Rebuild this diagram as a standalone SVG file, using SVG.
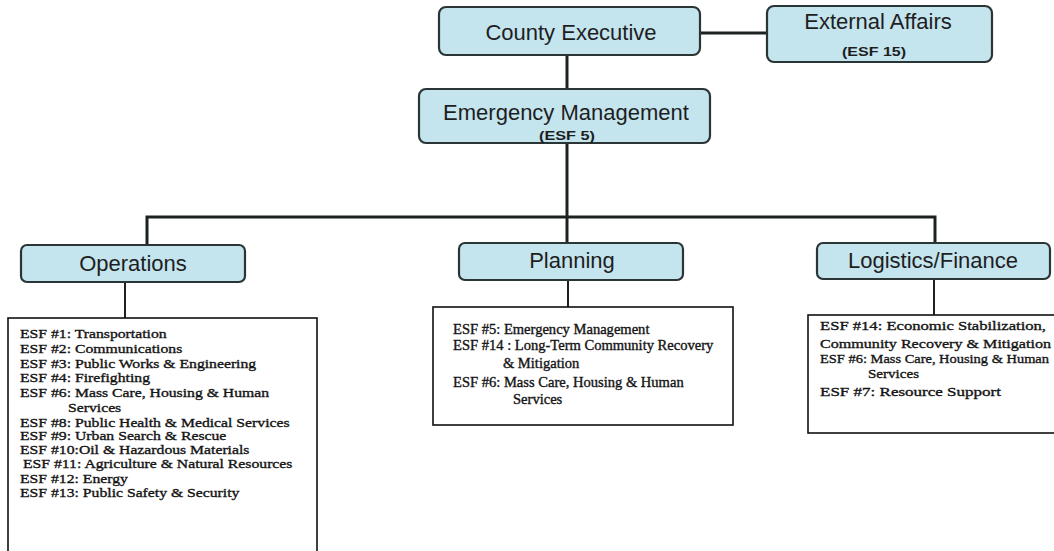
<svg xmlns="http://www.w3.org/2000/svg" width="1054" height="551" viewBox="0 0 1054 551">
<style>
.node{fill:#c4e4ee;stroke:#2b3535;stroke-width:2.2}
.lbl{font-family:"Liberation Sans",Arial,sans-serif;font-size:22px;fill:#1e1e1e;text-anchor:middle}
.sub{font-family:"Liberation Sans",Arial,sans-serif;font-size:12px;font-weight:bold;fill:#1e1e1e;text-anchor:middle}
.list{fill:#ffffff;stroke:#111;stroke-width:1.6}
.ser{font-family:"Liberation Serif","Times New Roman",serif;fill:#141414;stroke:#141414;stroke-width:0.35}
.conn{stroke:#1c2222;stroke-width:3;fill:none}
</style>
<rect width="1054" height="551" fill="#ffffff"/>
<g id="connectors" class="conn">
<line x1="700" y1="33" x2="767" y2="33"/>
<line x1="567" y1="55" x2="567" y2="89"/>
<line x1="567" y1="143" x2="567" y2="217"/>
<polyline points="147,245 147,217 935,217 935,243"/>
<line x1="567" y1="217" x2="567" y2="243"/>
<line x1="125" y1="282" x2="125" y2="318" stroke-width="2"/>
<line x1="568" y1="280" x2="568" y2="307" stroke-width="2"/>
<line x1="934" y1="279" x2="934" y2="315" stroke-width="2"/>
</g>
<g id="county-executive">
<rect class="node" x="439" y="7" width="261" height="48" rx="7"/>
<text class="lbl" x="571" y="40">County Executive</text>
</g>
<g id="external-affairs">
<rect class="node" x="767" y="6" width="225" height="56" rx="7"/>
<text class="lbl" x="878" y="29">External Affairs</text>
<text class="sub" x="874" y="56" textLength="64" lengthAdjust="spacingAndGlyphs">(ESF 15)</text>
</g>
<g id="emergency-management">
<rect class="node" x="419" y="89" width="291" height="54" rx="7"/>
<text class="lbl" x="566" y="120">Emergency Management</text>
<text class="sub" x="567" y="140" textLength="56" lengthAdjust="spacingAndGlyphs">(ESF 5)</text>
</g>
<g id="operations">
<rect class="node" x="21" y="245" width="224" height="37" rx="6"/>
<text class="lbl" x="133" y="271">Operations</text>
</g>
<g id="planning">
<rect class="node" x="459" y="243" width="224" height="37" rx="6"/>
<text class="lbl" x="572" y="268">Planning</text>
</g>
<g id="logistics-finance">
<rect class="node" x="817" y="243" width="233" height="36" rx="6"/>
<text class="lbl" x="933" y="268">Logistics/Finance</text>
</g>
<g id="operations-list">
<rect class="list" x="8" y="318" width="309" height="250"/>
<g transform="translate(20,0) scale(1.21,1)" class="ser" font-size="13">
<text x="0" y="338">ESF #1: Transportation</text>
<text x="0" y="353">ESF #2:  Communications</text>
<text x="0" y="368">ESF #3: Public Works &amp; Engineering</text>
<text x="0" y="382">ESF #4:  Firefighting</text>
<text x="0" y="397">ESF #6: Mass Care, Housing &amp; Human</text>
<text x="39.7" y="412">Services</text>
<text x="0" y="427">ESF #8: Public Health &amp; Medical Services</text>
<text x="0" y="440">ESF #9: Urban Search &amp; Rescue</text>
<text x="0" y="454">ESF #10:Oil &amp; Hazardous Materials</text>
<text x="2.5" y="468">ESF #11: Agriculture &amp; Natural Resources</text>
<text x="0" y="483">ESF #12: Energy</text>
<text x="0" y="497">ESF #13: Public Safety &amp; Security</text>
</g>
</g>
<g id="planning-list">
<rect class="list" x="433" y="307" width="300" height="118"/>
<g transform="translate(453,0) scale(1.04,1)" class="ser" font-size="14">
<text x="0" y="334">ESF #5: Emergency Management</text>
<text x="0" y="350">ESF #14 : Long-Term Community Recovery</text>
<text x="48" y="368">&amp; Mitigation</text>
<text x="0" y="387">ESF #6: Mass Care, Housing &amp; Human</text>
<text x="57.7" y="404">Services</text>
</g>
</g>
<g id="logistics-list">
<rect class="list" x="808" y="315" width="260" height="118"/>
<g class="ser" font-size="13.5">
<text x="820" y="330" textLength="226" lengthAdjust="spacingAndGlyphs">ESF #14: Economic Stabilization,</text>
<text x="820" y="348" textLength="231" lengthAdjust="spacingAndGlyphs">Community Recovery &amp; Mitigation</text>
<text x="820" y="363" textLength="229" lengthAdjust="spacingAndGlyphs">ESF #6: Mass Care, Housing &amp; Human</text>
<text x="868" y="378" textLength="51" lengthAdjust="spacingAndGlyphs">Services</text>
<text x="820" y="396" textLength="181" lengthAdjust="spacingAndGlyphs">ESF #7: Resource Support</text>
</g>
</g>
</svg>
